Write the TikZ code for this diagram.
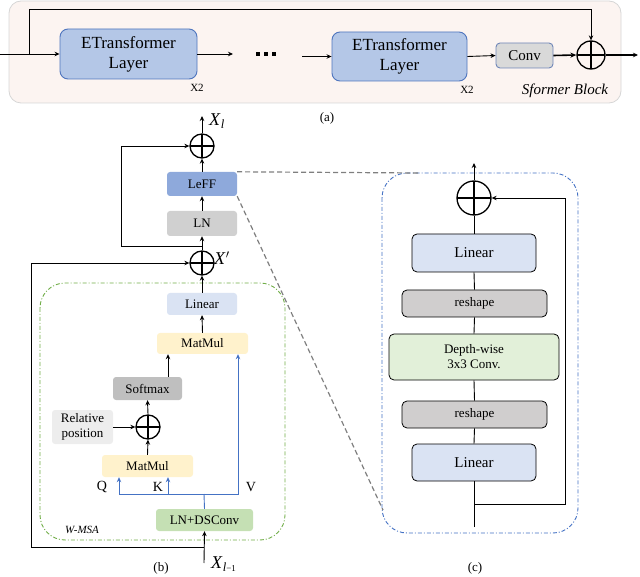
\documentclass[tikz,border=0pt]{standalone}
\usepackage{fontspec}
\setmainfont{Liberation Serif}
\usetikzlibrary{arrows.meta}
\definecolor{panelfill}{HTML}{FCF4F1}
\definecolor{paneldraw}{HTML}{D6D6D6}
\definecolor{etfill}{HTML}{B4C7E7}
\definecolor{etdraw}{HTML}{4F75BE}
\definecolor{convfill}{HTML}{D9D9D9}
\definecolor{convdraw}{HTML}{6F86B8}
\definecolor{lefffill}{HTML}{8EA9DB}
\definecolor{lnfill}{HTML}{D0D0D0}
\definecolor{linfill}{HTML}{DAE3F3}
\definecolor{mmfill}{HTML}{FFF2CC}
\definecolor{smfill}{HTML}{BFBFBF}
\definecolor{rpfill}{HTML}{EDEDED}
\definecolor{dsfill}{HTML}{C5E0B4}
\definecolor{dwfill}{HTML}{E2F0D9}
\definecolor{rsfill}{HTML}{D0CECE}
\definecolor{gdd}{HTML}{70AD47}
\definecolor{bdd}{HTML}{4472C4}
\definecolor{gdash}{HTML}{7F7F7F}
\newcommand\fsz[2]{\fontsize{#1}{#2}\selectfont}
\tikzset{
  arr/.style={-{Stealth[length=5pt,width=4.5pt]}, line width=0.9pt},
  plus/.style={circle, draw, line width=1.3pt, minimum size=#1, inner sep=0pt,
    path picture={\draw[line width=1.1pt] (path picture bounding box.north) -- (path picture bounding box.south)
      (path picture bounding box.west) -- (path picture bounding box.east);}},
  bbox/.style={rectangle, rounded corners=3pt, inner sep=0pt, align=center, font=\fsz{13}{15}},
  etbox/.style={rectangle, rounded corners=8pt, draw=etdraw, fill=etfill, line width=0.9pt, inner sep=0pt, align=center, font=\fsz{17}{20}},
  cbox/.style={rectangle, rounded corners=5pt, draw=black, line width=0.8pt, inner sep=0pt, align=center, font=\fsz{13}{15}},
  dashdot/.style={dash pattern=on 4pt off 2pt on 1pt off 2pt, line width=0.9pt},
  gdsh/.style={draw=gdash, dash pattern=on 5pt off 3pt, line width=1.2pt},
  lbl/.style={inner sep=0pt, font=\fsz{13}{15}},
}
\begin{document}
\begin{tikzpicture}[x=1pt,y=-1pt]
\useasboundingbox (0,0) rectangle (640,577);
% ---------------- panel (a)
\draw[paneldraw, fill=panelfill, line width=0.8pt, rounded corners=12pt] (9,1) rectangle (621,103);
\node[etbox, minimum width=137pt, minimum height=50pt] (et1) at (128.5,54) {ETransformer\\Layer};
\node[etbox, minimum width=135pt, minimum height=49pt] (et2) at (399.5,56.5) {ETransformer\\Layer};
\node[rectangle, rounded corners=4pt, draw=convdraw, fill=convfill, line width=0.9pt, minimum width=57pt, minimum height=25pt, inner sep=0pt, font=\fsz{15}{17}] (conv) at (524.5,55.5) {Conv};
\node[plus=28pt] (ca) at (591,55) {};
\coordinate (ain) at (0,54);
\coordinate (abr) at (29,54);
\coordinate (atop) at (29,9);
\coordinate (a1e) at (233,54);
\coordinate (a2s) at (302,56.5);
\coordinate (aout) at (638,55);
\draw[arr] (ain) -- (et1.west);
\draw[arr] (abr) -- (atop) -| (ca.north);
\draw[arr] (et1.east) -- (a1e);
\draw[arr] (a2s) -- (et2.west);
\draw[arr] (et2.east) -- (conv.west);
\draw[-{Stealth[length=6pt,width=5pt]}, line width=1.6pt] (conv.east) -- (ca.west);
\draw[arr, line width=1.2pt] (ca.east) -- (aout);
\foreach \xx in {258,266,274} \fill (\xx-2,52) rectangle (\xx+2,56.5);
\node[lbl, font=\fsz{11}{12}] (x2a) at (197,88) {X2};
\node[lbl, font=\fsz{11}{12}] (x2b) at (467,90) {X2};
\node[lbl, font=\fsz{15}{17}\itshape] (sfb) at (565,91) {Sformer Block};
\node[lbl] (la) at (327,118) {(a)};
% ---------------- panel (b)
\draw[gdd, dashdot, rounded corners=25pt] (40,283) rectangle (285,540);
\node[plus=24pt] (cxl) at (202,146) {};
\coordinate (xlout) at (202,116);
\draw[arr] (cxl.north) -- (xlout);
\node[lbl, anchor=west, font=\fsz{18}{20}] (txl) at (209,121) {\textit{X}\textsubscript{\textit{l}}};
\node[bbox, fill=lefffill, minimum width=70pt, minimum height=24pt] (leff) at (202,184) {LeFF};
\node[bbox, fill=lnfill, minimum width=70pt, minimum height=25pt] (ln) at (202,223.5) {LN};
\node[plus=24pt] (cxp) at (202,263) {};
\node[lbl, anchor=west, font=\fsz{18}{20}] (txp) at (214,258) {\textit{X}$'$};
\draw[arr] (ln.north) -- (leff.south);
\draw[arr] (leff.north) -- (cxl.south);
\draw[arr] (cxp.north) -- (ln.south);
\coordinate (sk1) at (202,246);
\coordinate (sk1l) at (121,246);
\draw[arr] (sk1) -- (sk1l) |- (cxl.west);
\node[bbox, fill=linfill, minimum width=70pt, minimum height=22pt] (linb) at (202,304) {Linear};
\draw[arr] (linb.north) -- (cxp.south);
\node[bbox, fill=mmfill, minimum width=91pt, minimum height=21pt] (mm1) at (202.5,343.5) {MatMul};
\draw[arr] (mm1.north) -- (linb.south);
\node[bbox, fill=smfill, minimum width=69pt, minimum height=23pt] (sm) at (147.5,388.5) {Softmax};
\draw[arr] ([xshift=20.5pt]sm.north) -- ([xshift=20.5pt]sm.north |- mm1.south);
\node[plus=24pt] (cs) at (148,427) {};
\draw[arr] (cs.north) -- (sm.south);
\node[bbox, fill=rpfill, minimum width=61pt, minimum height=34pt] (rp) at (82.5,427) {Relative\\position};
\draw[arr] (rp.east) -- (cs.west);
\node[bbox, fill=mmfill, minimum width=91pt, minimum height=22pt] (mm2) at (147.5,466) {MatMul};
\draw[arr] (mm2.north) -- (cs.south);
\node[bbox, fill=dsfill, minimum width=97pt, minimum height=22pt] (lnds) at (204.5,520) {LN+DSConv};
\coordinate (sp) at (204,494);
\coordinate (qx) at (119,494);
\coordinate (kx) at (168,494);
\coordinate (vx) at (238,494);
\draw[bdd, line width=0.9pt] (lnds.north) -- (sp);
\draw[arr, bdd] (sp) -- (qx) -- (qx |- mm2.south);
\draw[arr, bdd] (kx) -- (kx |- mm2.south);
\draw[arr, bdd] (sp) -- (vx) -- (vx |- mm1.south);
\node[lbl, font=\fsz{14}{16}] (tq) at (102,487) {Q};
\node[lbl, font=\fsz{14}{16}] (tk) at (158,487) {K};
\node[lbl, font=\fsz{14}{16}] (tv) at (251,487) {V};
\node[lbl, font=\fsz{11}{12}\itshape] (wmsa) at (82,530) {W-MSA};
\coordinate (bin) at (204,563);
\coordinate (bbr) at (204,547);
\coordinate (bbl) at (31,547);
\draw[arr] (bin) -- (lnds.south);
\draw[arr] (bbr) -- (bbl) |- (cxp.west);
\node[lbl, anchor=west, font=\fsz{18}{20}] (txl1) at (211,564) {\textit{X}\textsubscript{\textit{l}\fsz{9}{10}−1}};
\node[lbl] (lb) at (161,568) {(b)};
% ---------------- panel (c)
\draw[bdd, dashdot, rounded corners=25pt] (382,173) rectangle (578,533);
\coordinate (ctop1) at (420,173);
\coordinate (cbot1) at (383,510);
\draw[gdsh] (leff.north east) -- (ctop1);
\draw[gdsh] (leff.south east) -- (cbot1);
\node[plus=34pt] (cc) at (474,198) {};
\coordinate (cout) at (474,163);
\draw[arr] (cc.north) -- (cout);
\node[cbox, fill=linfill, minimum width=124pt, minimum height=38pt, font=\fsz{15}{17}] (lin1) at (474,253) {Linear};
\node[cbox, fill=rsfill, minimum width=145pt, minimum height=27pt] (rs1) at (474.5,303.5) {reshape};
\node[cbox, fill=dwfill, minimum width=170pt, minimum height=46pt] (dw) at (474,357) {Depth-wise\\3x3 Conv.};
\node[cbox, fill=rsfill, minimum width=145pt, minimum height=27pt] (rs2) at (474.5,414.5) {reshape};
\node[cbox, fill=linfill, minimum width=124pt, minimum height=37pt, font=\fsz{15}{17}] (lin2) at (474,462.5) {Linear};
\coordinate (cin) at (474,527);
\coordinate (cbr) at (474,504);
\coordinate (cright) at (565,504);
\draw[line width=0.9pt] (cin) -- (lin2.south);
\draw[line width=0.9pt] (lin2.north) -- (rs2.south);
\draw[line width=0.9pt] (rs2.north) -- (dw.south);
\draw[line width=0.9pt] (dw.north) -- (rs1.south);
\draw[line width=0.9pt] (rs1.north) -- (lin1.south);
\draw[line width=0.9pt] (lin1.north) -- (cc.south);
\draw[arr] (cbr) -- (cright) |- (cc.east);
\node[lbl] (lc) at (475,568) {(c)};
\end{tikzpicture}
\end{document}
